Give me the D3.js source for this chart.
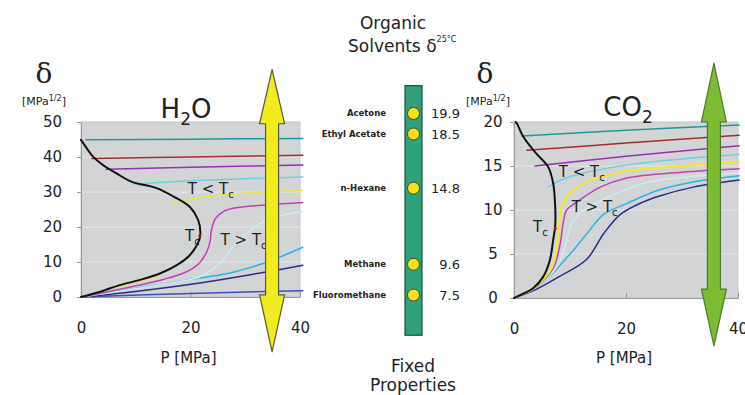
<!DOCTYPE html>
<html>
<head>
<meta charset="utf-8">
<script src="https://cdn.jsdelivr.net/npm/d3@7"></script>
<style>
  body { margin: 0; background: #fff; }
  text { font-family: "DejaVu Sans", sans-serif; fill: #222; }
</style>
</head>
<body>
<svg id="chart" width="745" height="395"></svg>
<script>
// axis ticks
const pTicks = [0, 20, 40];
const h2oTicks = [0, 10, 20, 30, 40, 50];
const co2Ticks = [0, 5, 10, 15, 20];

// H2O: [P in MPa, delta in MPa^1/2]
const h2oSat = [[0,0],[3.5,1.5],[7.1,3.4],[10.8,4.9],[14.4,6.7],[17.5,9.1],[19.9,12],[21.6,16.3],[21.8,18.5],
  [21.4,22],[19.9,25.7],[16.9,28.7],[13.8,31.1],[9.3,32.9],[6.5,35.3],[4,37.7],[2.2,40.1],[1,42.6],[0,44.9]];
const h2oTeal = [[0.9,44.9],[20,45.1],[40.5,45.3]];
const h2oRed = [[2,39.6],[20,40.0],[40.5,40.5]];
const h2oPurple = [[4.6,36.5],[20,37.1],[40.5,37.7]];
const h2oLightCyan = [[9.7,32.3],[20,33.2],[30,33.8],[40.5,34.3]];
const h2oYellowLiq = [[16.8,26.9],[20,28],[25,29],[30,29.7],[40.5,30.4]];
const h2oYellowVap = [[0,0],[7,3.1],[14,6.0]];
const h2oMagenta = [[0,0],[5,1.5],[10,3.2],[15,5],[19,7],[21.5,9.5],[23,13],[23.6,16],[23.8,19],[24.6,22.5],
  [26,24.4],[28,25.4],[34,26.3],[40.5,27]];
const h2oPaleCyan = [[0,0],[10,2.4],[18,4.4],[21.7,5.8],[25.4,9.6],[27.8,14.4],[30.3,18.2],[33.3,21.5],[36.5,23.2],[40.5,24.5]];
const h2oCyan = [[0,0],[10,2.5],[21.7,5.4],[27.8,7.1],[34,10],[40.5,14.2]];
const h2oNavy = [[0,0],[10,1.6],[21.7,4],[34,7.2],[40.5,9.1]];
const h2oBlue = [[0,0],[20,1],[40.5,1.8]];
const h2oCritical = [21.7, 17.5];

// CO2: [P in MPa, delta in MPa^1/2]
const co2Sat = [[0,0],[0.5,0.15],[3.4,1.1],[5.2,2.4],[6.4,4.3],[7,6.6],[7.3,7.9],[7.4,8.9],[7.3,11.1],[7,13],
  [6.1,14.9],[4,16.4],[1.7,18.3],[0.5,19.85],[0.3,20]];
const co2Teal = [[1.4,18.4],[20,19.05],[40.2,19.65]];
const co2Red = [[2.3,16.8],[20,17.6],[40.2,18.5]];
const co2Purple = [[3.75,15],[20,16.1],[40.2,17.3]];
const co2LightCyan = [[6.1,12.6],[8,13.3],[11.2,14],[20,15.1],[30,15.8],[40.2,16.3]];
const co2Yellow = [[0,0],[4,1.4],[6.8,3.5],[7.7,6],[8.1,8.8],[8.6,10.4],[10,11.9],[14,13.4],[20,14.4],[30,15],[40.2,15.4]];
const co2Magenta = [[0,0],[4,1.3],[7,3.4],[8.2,6],[8.8,8.6],[9.4,10],[11.2,10.9],[15.4,12.6],[20,13.6],[30,14.3],[40.2,14.7]];
const co2PaleCyan = [[0,0],[4,1.2],[7.6,3.5],[9.4,6.5],[10.4,8.6],[12.4,9.9],[17,11.5],[23,13],[30,13.7],[40.2,14.2]];
const co2Cyan = [[0,0],[5,1.7],[10,5],[13,7.3],[16,9.5],[20,10.7],[26,12.3],[33,13.3],[40.2,13.9]];
const co2Navy = [[0,0],[4,1],[8,2.4],[13,4.4],[16,7.3],[19,9.5],[23,10.9],[26,11.6],[32,12.6],[40.2,13.4]];
const co2Critical = [7.4, 7.9];

// organic solvents, delta at 25 C
const solventNames = ['Acetone', 'Ethyl Acetate', 'n-Hexane', 'Methane', 'Fluoromethane'];
const solventDelta = [19.9, 18.5, 14.8, 9.6, 7.5];

const svg = d3.select('#chart');
svg.append('rect').attr('width', 745).attr('height', 395).attr('fill', '#fff');

const line = (x, y) => d3.line().x(d => x(d[0])).y(d => y(d[1])).curve(d3.curveCatmullRom.alpha(0.5));

function arrow(g, cx, yTip, yHead1, yHead2, yTip2, fill, stroke) {
  const s = 6.5, h = 12.5;
  const p = d3.path();
  p.moveTo(cx, yTip);
  p.lineTo(cx + h, yHead1); p.lineTo(cx + s, yHead1);
  p.lineTo(cx + s, yHead2); p.lineTo(cx + h, yHead2);
  p.lineTo(cx, yTip2);
  p.lineTo(cx - h, yHead2); p.lineTo(cx - s, yHead2);
  p.lineTo(cx - s, yHead1); p.lineTo(cx - h, yHead1);
  p.closePath();
  g.append('path').attr('d', p.toString()).attr('fill', fill)
    .attr('stroke', stroke).attr('stroke-width', 1.2).attr('stroke-linejoin', 'round');
}

function panel(o) {
  const x = d3.scaleLinear().domain([0, 40]).range(o.xr);
  const y = d3.scaleLinear().domain(o.yd).range(o.yr);
  const g = svg.append('g');

  g.append('rect')
    .attr('x', x(0)).attr('y', y(o.yd[1]))
    .attr('width', x(40) - x(0)).attr('height', y(0) - y(o.yd[1]))
    .attr('fill', '#d3d4d6').attr('stroke', '#c4c5c7');

  g.selectAll('.grid').data(o.ticks.slice(1, -1)).join('line')
    .attr('x1', x(0)).attr('x2', x(40))
    .attr('y1', d => y(d)).attr('y2', d => y(d))
    .attr('stroke', '#e6e7e9').attr('stroke-width', 1);

  const xa = g.append('g').attr('transform', `translate(0,${y(0)})`)
    .call(d3.axisBottom(x).tickValues(pTicks).tickSizeInner(-5).tickSizeOuter(0).tickPadding(25));
  const ya = g.append('g').attr('transform', `translate(${x(0)},0)`)
    .call(d3.axisLeft(y).tickValues(o.ticks).tickSizeInner(4).tickSizeOuter(0).tickPadding(o.yPad));
  [xa, ya].forEach(a => {
    a.select('.domain').attr('stroke', '#9a9a9a');
    a.selectAll('.tick line').attr('stroke', '#9a9a9a');
    a.selectAll('.tick text').style('font-size', '15px').attr('fill', '#222');
  });
  if (o.yAnchor) ya.selectAll('.tick text').attr('text-anchor', o.yAnchor);

  o.series.forEach(s => {
    g.append('path').datum(s.data)
      .attr('d', line(x, y))
      .attr('fill', 'none').attr('stroke', s.color)
      .attr('stroke-width', s.width || 1.5).attr('stroke-linecap', 'round');
  });

  g.append('circle').attr('cx', x(o.crit[0])).attr('cy', y(o.crit[1])).attr('r', 1.6).attr('fill', '#d01010');

  // titles
  g.append('text').attr('x', o.deltaX).attr('y', 83).attr('text-anchor', 'middle')
    .style('font-family', '"DejaVu Serif", serif').style('font-size', '28px').text('δ');
  const u = g.append('text').attr('x', o.unitX).attr('y', 105).attr('text-anchor', 'middle').style('font-size', '11px');
  u.append('tspan').text('[MPa');
  u.append('tspan').attr('dy', -4).style('font-size', '8px').text('1/2');
  u.append('tspan').attr('dy', 4).text(']');

  const t = g.append('text').attr('x', o.titleX).attr('y', o.titleY).attr('text-anchor', 'middle').style('font-size', '26px');
  t.append('tspan').text(o.title[0]);
  t.append('tspan').attr('dy', 7).style('font-size', '17px').text(o.title[1]);
  if (o.title[2]) t.append('tspan').attr('dy', -7).text(o.title[2]);

  g.append('text').attr('x', (x(0) + x(40)) / 2 - 2).attr('y', 363).attr('text-anchor', 'middle')
    .style('font-size', '15px').text('P [MPa]');

  const tc = (px, py, str) => {
    const tt = g.append('text').attr('x', px).attr('y', py).style('font-size', '15px');
    tt.append('tspan').text(str);
    tt.append('tspan').attr('dy', 4).style('font-size', '10px').text('c');
  };
  o.labels.forEach(l => tc(x(l[0]), y(l[1]), l[2]));

  arrow(g, x(o.arrow.p), y(o.arrow.tip), y(o.arrow.head), y(o.arrow.head2), y(o.arrow.tip2), o.arrow.fill, o.arrow.stroke);
  return g;
}

panel({
  xr: [81, 300], yd: [0, 50], yr: [297, 122], ticks: h2oTicks, yPad: 15,
  series: [
    { data: h2oBlue, color: '#3b4fc4' },
    { data: h2oNavy, color: '#2b2b85' },
    { data: h2oCyan, color: '#2ab4e6' },
    { data: h2oPaleCyan, color: '#c6eff7' },
    { data: h2oMagenta, color: '#c43fb4' },
    { data: h2oYellowVap, color: '#eaea3c' },
    { data: h2oYellowLiq, color: '#eaea3c' },
    { data: h2oLightCyan, color: '#66d2e2' },
    { data: h2oPurple, color: '#9a2fb0' },
    { data: h2oRed, color: '#a82a2a' },
    { data: h2oTeal, color: '#1c9a9a' },
    { data: h2oSat, color: '#111', width: 2 },
  ],
  crit: h2oCritical,
  deltaX: 44, unitX: 44,
  title: ['H', '2', 'O'], titleX: 186, titleY: 118,
  labels: [[19.5, 29.5, 'T < T'], [19, 16, 'T'], [25.5, 15, 'T > T']],
  arrow: { p: 34.9, tip: 65, head: 49.5, head2: 0.6, tip2: -15.7, fill: '#f1ec1f', stroke: '#5a5a3a' },
});

panel({
  xr: [514, 738], yd: [0, 20], yr: [298, 122], ticks: co2Ticks, yPad: 17, yAnchor: 'middle',
  series: [
    { data: co2Navy, color: '#2b2b85' },
    { data: co2Cyan, color: '#2ab4e6' },
    { data: co2PaleCyan, color: '#c6eff7' },
    { data: co2Magenta, color: '#c43fb4' },
    { data: co2Yellow, color: '#f0ea2a', width: 2 },
    { data: co2LightCyan, color: '#66d2e2' },
    { data: co2Purple, color: '#9a2fb0' },
    { data: co2Red, color: '#a82a2a' },
    { data: co2Teal, color: '#1c9a9a' },
    { data: co2Sat, color: '#111', width: 2 },
  ],
  crit: co2Critical,
  deltaX: 485, unitX: 488,
  title: ['CO', '2'], titleX: 628, titleY: 116,
  labels: [[8, 13.8, 'T < T'], [10.3, 9.8, 'T > T'], [3.4, 7.5, 'T']],
  arrow: { p: 35.7, tip: 26.7, head: 20, head2: 1, tip2: -5.45, fill: '#7dbb35', stroke: '#4a7a2a' },
});

// middle column: organic solvents
const yS = d3.scaleLinear().domain([20, 7.5]).range([112, 295]);
const mid = svg.append('g');
const barX = 413.5;
mid.append('rect').attr('x', barX - 8.5).attr('y', yS(21.8)).attr('width', 17)
  .attr('height', yS(4.75) - yS(21.8)).attr('fill', '#2fa07a').attr('stroke', '#1f4f3c').attr('stroke-width', 1.2);
mid.selectAll('circle').data(solventDelta).join('circle')
  .attr('cx', barX).attr('cy', d => yS(d)).attr('r', 6)
  .attr('fill', '#f5e41c').attr('stroke', '#4a4a20').attr('stroke-width', 1);
mid.selectAll('.name').data(solventNames).join('text')
  .attr('x', 386).attr('y', (d, i) => yS(solventDelta[i]) + 3)
  .attr('text-anchor', 'end').style('font-size', '8.5px').style('font-weight', 'bold')
  .text(d => d);
mid.selectAll('.val').data(solventDelta).join('text')
  .attr('x', 460).attr('y', d => yS(d) + 5)
  .attr('text-anchor', 'end').style('font-size', '13px')
  .text(d => d.toFixed(1));

mid.append('text').attr('x', 393).attr('y', 29).attr('text-anchor', 'middle').style('font-size', '17px').text('Organic');
const st = mid.append('text').attr('x', 348).attr('y', 52).style('font-size', '17px');
st.append('tspan').text('Solvents δ');
st.append('tspan').attr('dy', -10).style('font-size', '8px').text('25°C');
mid.append('text').attr('x', 413).attr('y', 372).attr('text-anchor', 'middle').style('font-size', '17px').text('Fixed');
mid.append('text').attr('x', 413).attr('y', 391).attr('text-anchor', 'middle').style('font-size', '17px').text('Properties');
</script>
</body>
</html>
